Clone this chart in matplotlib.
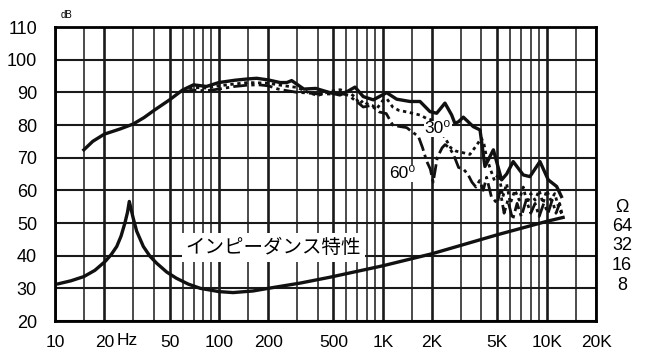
import numpy as np
import matplotlib.pyplot as plt
from matplotlib.transforms import blended_transform_factory

# on-axis response (solid)
f_0 = [15, 17, 20, 25, 30, 35, 40, 50, 60, 70, 84, 100, 125, 150, 170, 200, 236, 260, 278,
       330, 390, 476, 548, 620, 677, 760, 875, 1056, 1216, 1466, 1687, 1941, 2133,
       2395, 2630, 2754, 2900, 3100, 3565, 3920, 4200, 4730, 5310, 5700, 6250, 7200,
       7900, 9100, 10230, 11500, 12300]
db_0 = [72.4, 75, 77.2, 78.8, 80.3, 82.3, 84.4, 87.7, 90.7, 92.3, 91.8, 93, 93.7, 94.1,
        94.3, 93.8, 93, 93, 93.6, 91, 91.2, 89.9, 89.2, 90.5, 91.6, 88.7, 87.7, 89.9,
        87.9, 87.2, 87.2, 84.1, 83.6, 86.7, 83.1, 80.5, 81, 82.4, 79.5, 78.5, 67.3,
        72.4, 63.2, 65, 68.8, 64.7, 64.2, 68.8, 63.2, 61.2, 58.1]

# 30 degree (dotted)
f_30 = [60, 70, 84, 100, 150, 200, 250, 300, 350, 400, 476, 550, 620, 680, 720, 760,
        800, 860, 920, 1000, 1060, 1150, 1250, 1400, 1550, 1700, 1850, 2000, 2100,
        2400, 2600, 2800, 3100, 3400, 3700, 4000, 4150, 4300, 4500, 4800, 5100, 5400,
        5700, 6000, 6400, 6800, 7200, 7600, 8000, 8500, 9000, 9500, 10000, 10600,
        11200, 11800, 12300, 12600]
db_30 = [90.5, 91.5, 91.3, 92, 93, 92.8, 92, 91.5, 90, 89, 90.3, 90.8, 90, 88.5, 86.5,
         87.5, 86.5, 86, 85, 87.5, 88, 85.5, 84.5, 84, 83.5, 83, 82, 81.5, 80.5,
         76, 73, 72, 71.5, 71, 73.5, 76, 74, 70, 67, 63, 65, 58, 62, 56, 60, 57, 61,
         56, 59, 57, 60, 56, 60, 57, 59, 55, 53, 52]

# 60 degree (dash-dot)
f_60 = [60, 70, 84, 100, 125, 150, 175, 200, 230, 260, 300, 350, 400, 476, 550, 620,
        700, 760, 850, 950, 1050, 1150, 1250, 1400, 1500, 1650, 1750, 1850, 1950, 2030,
        2150, 2300, 2400, 2550, 2700, 2900, 3100, 3300, 3500, 3700, 3900, 4100, 4300,
        4600, 5000, 5200, 5500, 5800, 6200, 6600, 7000, 7500, 8000, 8500, 9000, 9600,
        10200, 10800, 11400, 12000, 12500]
db_60 = [90.3, 90.6, 90.5, 91, 91.8, 92.2, 92.3, 92, 91, 90.5, 90, 89.8, 89.5, 89.5,
         89.8, 89, 87, 85.5, 86, 84, 83.5, 80, 79.6, 79.2, 78, 76.5, 73, 69, 66.5, 62.5,
         70, 73, 74, 73, 71, 67, 66.5, 65, 62.5, 61, 63, 60, 64, 58, 56, 60, 53, 57, 51,
         56, 52, 57, 53, 56, 52, 56, 53, 57, 53, 56, 52]

# impedance curve (plotted on dB scale)
f_imp = [10.5, 12.5, 15, 17.5, 20.2, 22, 23.8, 25.3, 26.7, 27.7, 28.4, 29.2, 30, 31.5,
         34.6, 38, 41.7, 48, 55, 65, 77, 100, 122, 162, 200, 313, 476, 1000, 2000, 5000,
         10000, 12600]
db_imp = [31.4, 32.3, 33.6, 35.5, 38.2, 40.3, 42.8, 46, 50, 53.3, 56.6, 54, 51.5, 47.5,
          42.8, 39.8, 37.7, 35, 33.1, 31.3, 30, 29, 28.7, 29.2, 30, 31.6, 33.4, 36.9,
          40.6, 46.4, 50.5, 51.7]

x_ticks = [10, 20, 50, 100, 200, 500, 1000, 2000, 5000, 10000, 20000]
x_labels = ["10", "20", "50", "100", "200", "500", "1K", "2K", "5K", "10K", "20K"]
y_ticks = list(range(20, 111, 10))
ohm_labels = ["Ω", "64", "32", "16", "8"]

font = ["Liberation Sans Narrow", "Liberation Sans", "DejaVu Sans"]
plt.rcParams["font.family"] = font

fig = plt.figure(figsize=(6.52, 3.62), dpi=100)
ax = fig.add_axes([55 / 652, 1 - 321 / 362, 541 / 652, 294 / 362])
ax.set_xscale("log")

minor = [m * 10 ** d for d in range(1, 4) for m in (1.5, 3, 4, 6, 7, 8, 9)] + [15000]
ax.set_xticks(x_ticks)
ax.set_xticklabels(x_labels, fontsize=12.5)
ax.set_xticks(minor, minor=True)
ax.set_xticklabels([], minor=True)
ax.set_yticks(y_ticks)
ax.set_yticklabels([str(v) for v in y_ticks], fontsize=13)
ax.set_xlim(10, 20000)
ax.set_ylim(20, 110)
ax.tick_params(which="both", length=0)
ax.tick_params(axis="x", pad=10)
ax.tick_params(axis="y", pad=13)
ax.grid(which="major", axis="x", color="#1a1a1a", lw=1.9)
ax.grid(which="minor", axis="x", color="#1a1a1a", lw=1.1)
ax.grid(which="major", axis="y", color="#1a1a1a", lw=1.5)
ax.set_axisbelow(True)
for s in ax.spines.values():
    s.set_linewidth(2)

ax.plot(f_0, db_0, color="#111", lw=2.4, solid_joinstyle="round", zorder=4)
ax.plot(f_30, db_30, color="#111", lw=2.0, ls=(0, (1.2, 1.3)), zorder=3)
ax.plot(f_60, db_60, color="#111", lw=2.0, ls=(0, (5, 1.5, 1.2, 1.5)), zorder=3)
ax.plot(f_imp, db_imp, color="#111", lw=2.4, zorder=4)

ax.text(1800, 78.8, "30⁰", fontsize=12.5, ha="left", va="center", zorder=5,
        bbox=dict(facecolor="white", edgecolor="none", pad=0.5))
ax.text(1310, 65.2, "60⁰", fontsize=12.5, ha="center", va="center", zorder=5,
        bbox=dict(facecolor="white", edgecolor="none", pad=0.5))
ax.text(215, 42.6, "インピーダンス特性", fontsize=14, ha="center", va="center",
        family=["Noto Sans CJK JP", "DejaVu Sans"], zorder=5,
        bbox=dict(facecolor="white", edgecolor="none", pad=3))

tr = blended_transform_factory(ax.transData, ax.transAxes)
ax.text(27.5, -0.066, "Hz", fontsize=12.5, ha="center", va="center", transform=tr)
ax.text(0.01, 1.042, "dB", fontsize=7, ha="left", va="center", transform=ax.transAxes)

for i, lab in enumerate(ohm_labels):
    fig.text(622 / 652, 1 - (207 + i * 19.5) / 362, lab, fontsize=13,
             ha="center", va="center")

fig.savefig("out.png", dpi=100)
